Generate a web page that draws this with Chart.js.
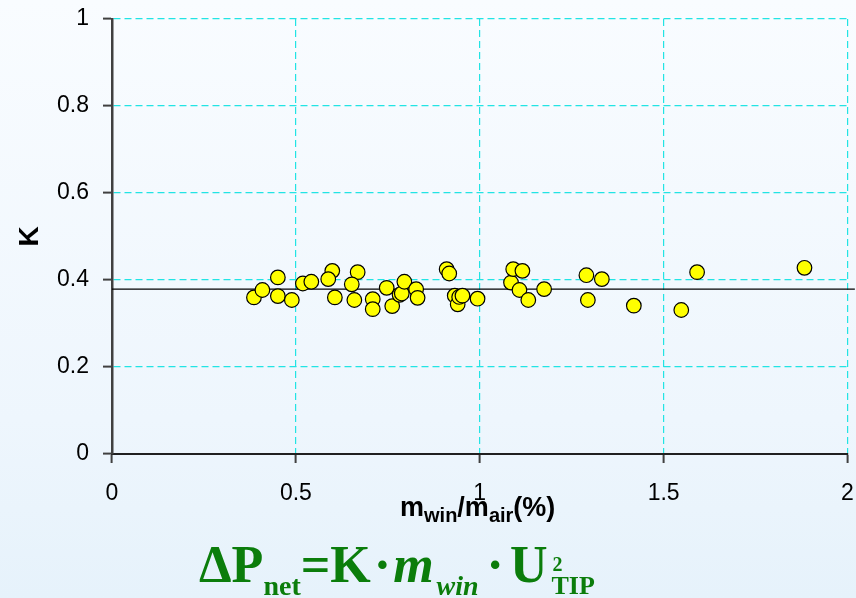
<!DOCTYPE html>
<html>
<head>
<meta charset="utf-8">
<script src="https://cdn.jsdelivr.net/npm/chart.js@4.4.0/dist/chart.umd.min.js"></script>
<style>
  html, body { margin: 0; padding: 0; }
  body {
    width: 856px; height: 598px; overflow: hidden; position: relative;
    background: linear-gradient(to bottom, #f9fcff 0%, #eef6fd 70%, #e6f2fb 100%);
    font-family: "Liberation Sans", Arial, sans-serif;
  }
  #wrap { position: absolute; left: 0; top: 0; width: 856px; height: 598px; }
  .xtitle {
    position: absolute; left: 400px; top: 494px; line-height: 27px;
    font: bold 27px/27px "Liberation Sans", Arial, sans-serif; color: #000; white-space: nowrap;
  }
  .xtitle sub { font-size: 20px; vertical-align: -6px; line-height: 0; }
  .formula {
    position: absolute; left: 199px; top: 535px; white-space: nowrap;
    font: bold 52px "Liberation Serif", "Times New Roman", serif; color: #0b7d0b;
  }
  .formula .sub { font-size: 28px; vertical-align: -13px; }
  .formula i { font-style: italic; }
  .formula .dot { margin: 0 2px 0 3px; }
  .formula .dot2 { margin: 0 6px 0 8px; }
  .formula .stack {
    display: inline-block; vertical-align: -12px; line-height: 21px;
    font-size: 26px; text-align: left; margin-left: 4px;
  }
  .formula .stack span { display: block; }
  .formula .stack .sup { font-size: 20px; padding-left: 1px; }
</style>
</head>
<body>
<div id="wrap"><canvas id="chart" width="856" height="598"></canvas></div>
<div class="xtitle">m<sub>win</sub>/m<sub>air</sub>(%)</div>
<div class="formula">&Delta;P<span class="sub">net</span>=K<span class="dot">&middot;</span><i>m</i><span class="sub" style="margin-left:3px"><i>win</i></span><span class="dot2">&middot;</span>U<span class="stack"><span class="sup">2</span><span>TIP</span></span></div>
<script>
// measured points (mass ratio %, K)
const massRatio = [0.386, 0.409, 0.451, 0.451, 0.489, 0.519, 0.542, 0.599, 0.588, 0.606,
  0.668, 0.652, 0.659, 0.709, 0.709, 0.747, 0.762, 0.782, 0.788, 0.795,
  0.827, 0.831, 0.910, 0.917, 0.932, 0.940, 0.944, 0.953, 0.994, 1.085,
  1.091, 1.116, 1.108, 1.132, 1.175, 1.290, 1.332, 1.294, 1.419, 1.591,
  1.548, 1.883];
const kValues = [0.360, 0.377, 0.406, 0.363, 0.354, 0.392, 0.396, 0.421, 0.402, 0.360,
  0.418, 0.390, 0.354, 0.356, 0.333, 0.382, 0.340, 0.366, 0.369, 0.396,
  0.379, 0.359, 0.425, 0.415, 0.364, 0.344, 0.361, 0.364, 0.357, 0.394,
  0.425, 0.421, 0.377, 0.354, 0.379, 0.411, 0.402, 0.354, 0.341, 0.418,
  0.331, 0.428];

// mean K line
const kMean = 0.379;
const lineX = [0, 2.02];

const xTicks = [0, 0.5, 1, 1.5, 2];
const yTicks = [0, 0.2, 0.4, 0.6, 0.8, 1];

const points = massRatio.map((x, i) => ({ x: x, y: kValues[i] }));
const meanLine = lineX.map(x => ({ x: x, y: kMean }));

const gridColor = (c) => (c.tick && c.tick.value === 0) ? 'rgba(0,0,0,0)' : '#22e4e4';

new Chart(document.getElementById('chart'), {
  type: 'scatter',
  data: {
    datasets: [
      {
        label: 'K',
        data: points,
        backgroundColor: '#ffff00',
        borderColor: '#000000',
        borderWidth: 1.2,
        pointRadius: 7.3,
        order: 1
      },
      {
        type: 'line',
        label: 'mean',
        data: meanLine,
        borderColor: '#000000',
        borderWidth: 1.2,
        pointRadius: 0,
        clip: false,
        order: 2
      }
    ]
  },
  options: {
    responsive: false,
    animation: false,
    layout: { padding: { top: 19, right: 7, left: 0, bottom: 0 } },
    plugins: { legend: { display: false }, tooltip: { enabled: false } },
    scales: {
      x: {
        type: 'linear', min: 0, max: 2,
        afterBuildTicks: (s) => { s.ticks = xTicks.map(v => ({ value: v })); },
        afterFit: (s) => { s.height = 144; s.paddingLeft = 0; s.paddingRight = 0; },
        ticks: {
          color: '#000', padding: 17, maxRotation: 0,
          font: { family: '"Liberation Sans", Arial', size: 23 },
          callback: (v) => String(v)
        },
        grid: {
          color: gridColor, lineWidth: 1.2,
          tickLength: 9, tickColor: '#404040', tickWidth: 2, tickBorderDash: []
        },
        border: { color: '#202020', width: 2, dash: [7, 4] }
      },
      y: {
        type: 'linear', min: 0, max: 1,
        afterBuildTicks: (s) => { s.ticks = yTicks.map(v => ({ value: v })); },
        afterFit: (s) => { s.width = 112; s.paddingTop = 0; s.paddingBottom = 0; },
        title: {
          display: true, text: 'K', color: '#000',
          font: { family: '"Liberation Sans", Arial', size: 28, weight: 'bold' },
          padding: { top: 13, bottom: 0 }
        },
        ticks: {
          color: '#000', padding: 14,
          font: { family: '"Liberation Sans", Arial', size: 23 },
          callback: (v) => String(v)
        },
        grid: {
          color: gridColor, lineWidth: 1.2,
          tickLength: 9, tickColor: '#404040', tickWidth: 2, tickBorderDash: []
        },
        border: { color: '#404040', width: 2.5, dash: [7, 4] }
      }
    }
  }
});
</script>
</body>
</html>
